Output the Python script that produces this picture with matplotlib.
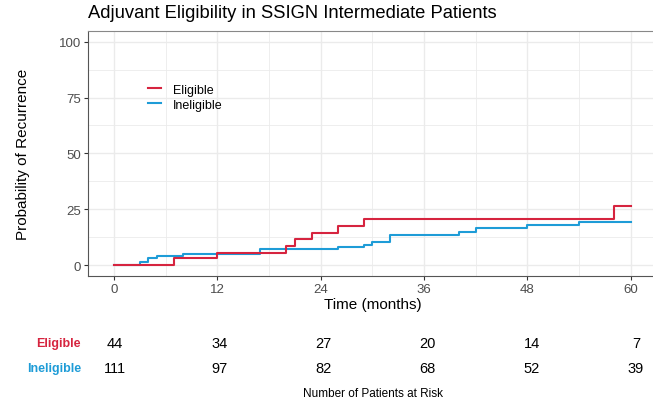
import numpy as np
import matplotlib
matplotlib.use("Agg")
import matplotlib.pyplot as plt
from matplotlib.ticker import MultipleLocator

plt.rcParams["font.family"] = ["Liberation Sans", "DejaVu Sans"]

# cumulative recurrence curves (step, post)
elig_t = [0, 7, 12, 20, 21, 23, 26, 29, 58, 60]
elig_p = [0, 3.0, 5.5, 8.3, 11.5, 14.3, 17.3, 20.7, 26.6, 26.6]
inel_t = [0, 3, 4, 5, 8, 17, 26, 29, 30, 32, 40, 42, 48, 54, 60]
inel_p = [0, 1.2, 3.3, 3.9, 4.8, 7.0, 7.9, 8.9, 10.3, 13.4, 14.7, 16.4, 17.7, 19.3, 19.3]

# numbers at risk
risk_times = [0, 12, 24, 36, 48, 60]
risk_elig = [44, 34, 27, 20, 14, 7]
risk_inel = [111, 97, 82, 68, 52, 39]

RED = "#D6243F"
BLUE = "#1E9CD7"
GRID = "#EBEBEB"
TXT = "#4D4D4D"

W, H = 653, 406
fig = plt.figure(figsize=(W / 100, H / 100), dpi=100)


def px_box(x0, y0, x1, y1):
    return [x0 / W, 1 - y1 / H, (x1 - x0) / W, (y1 - y0) / H]


ax = fig.add_axes(px_box(88, 31.5, 656.7, 277.2))
ax.step(elig_t, elig_p, where="post", color=RED, lw=1.5, label="Eligible", zorder=3)
ax.step(inel_t, inel_p, where="post", color=BLUE, lw=1.5, label="Ineligible", zorder=2)
ax.set_xlim(-3, 63)
ax.set_ylim(-5, 105)
ax.xaxis.set_major_locator(MultipleLocator(12))
ax.xaxis.set_minor_locator(MultipleLocator(6))
ax.yaxis.set_major_locator(MultipleLocator(25))
ax.yaxis.set_minor_locator(MultipleLocator(12.5))
ax.set_yticks([0, 25, 50, 75, 100])
ax.grid(which="major", color=GRID, lw=1.0, zorder=0)
ax.grid(which="minor", color=GRID, lw=0.6, zorder=0)
ax.set_axisbelow(True)
ax.tick_params(which="minor", length=0)
ax.tick_params(which="major", length=3, width=0.8, color="#333333",
               labelcolor=TXT, labelsize=9.5, pad=2)
for s in ["left", "bottom", "top"]:
    ax.spines[s].set_color("#555555")
    ax.spines[s].set_linewidth(0.8)
ax.spines["top"].set_color("#888888")
ax.spines["right"].set_visible(False)
ax.set_xlabel("Time (months)", fontsize=11, labelpad=1)
ax.set_ylabel("Probability of Recurrence", fontsize=11, labelpad=21)
ax.legend(loc="upper left", bbox_to_anchor=(0.085, 0.83), frameon=False,
          fontsize=9, handlelength=1.1, handletextpad=0.9, labelspacing=0.25)
fig.text(88 / W, 1 - 14 / H, "Adjuvant Eligibility in SSIGN Intermediate Patients",
         fontsize=13.2, va="center", ha="left")

# risk table
rax = fig.add_axes(px_box(89, 331.5, 662, 381.5))
rax.set_xlim(-3, 63)
rax.set_ylim(0, 50)
rax.axis("off")
for t, e, i in zip(risk_times, risk_elig, risk_inel):
    rax.text(t, 37.5, str(e), ha="center", va="center", fontsize=10.5)
    rax.text(t, 12.5, str(i), ha="center", va="center", fontsize=10.5)
fig.text(81 / W, 1 - 344 / H, "Eligible", color=RED, fontweight="bold",
         fontsize=9, ha="right", va="center")
fig.text(81 / W, 1 - 369 / H, "Ineligible", color=BLUE, fontweight="bold",
         fontsize=9, ha="right", va="center")
fig.text(373 / W, 1 - 394 / H, "Number of Patients at Risk", fontsize=8.5,
         ha="center", va="center")

fig.savefig("out.png", dpi=100)
